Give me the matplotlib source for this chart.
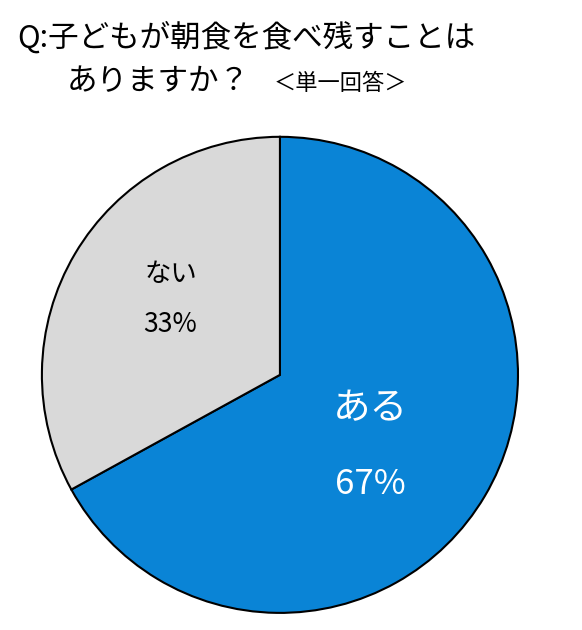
import matplotlib.pyplot as plt

plt.rcParams['font.family'] = ['Noto Sans CJK JP', 'DejaVu Sans']

labels = ["ある", "ない"]
values = [67, 33]
colors = ["#0A84D6", "#D9D9D9"]

fig = plt.figure(figsize=(5.82, 6.3), dpi=100)
fig.text(0.03, 0.94, "Q:子どもが朝食を食べ残すことは", fontsize=22, va="center")
fig.text(0.115, 0.87, "ありますか？", fontsize=22, va="center")
fig.text(0.47, 0.868, "＜単一回答＞", fontsize=16, va="center")

ax = fig.add_axes([0.072, 0.027, 0.818, 0.756])
ax.pie(values, colors=colors, startangle=90, counterclock=False,
       wedgeprops=dict(edgecolor="black", linewidth=1.5))
ax.set_xlim(-1, 1)
ax.set_ylim(-1, 1)

ax.text(0.38, -0.14, labels[0], fontsize=27, color="white", ha="center", va="center")
ax.text(0.38, -0.46, f"{values[0]}%", fontsize=25, color="white", ha="center", va="center")
ax.text(-0.46, 0.42, labels[1], fontsize=19, color="black", ha="center", va="center")
ax.text(-0.46, 0.21, f"{values[1]}%", fontsize=19, color="black", ha="center", va="center")

fig.savefig("out.png", dpi=100)
